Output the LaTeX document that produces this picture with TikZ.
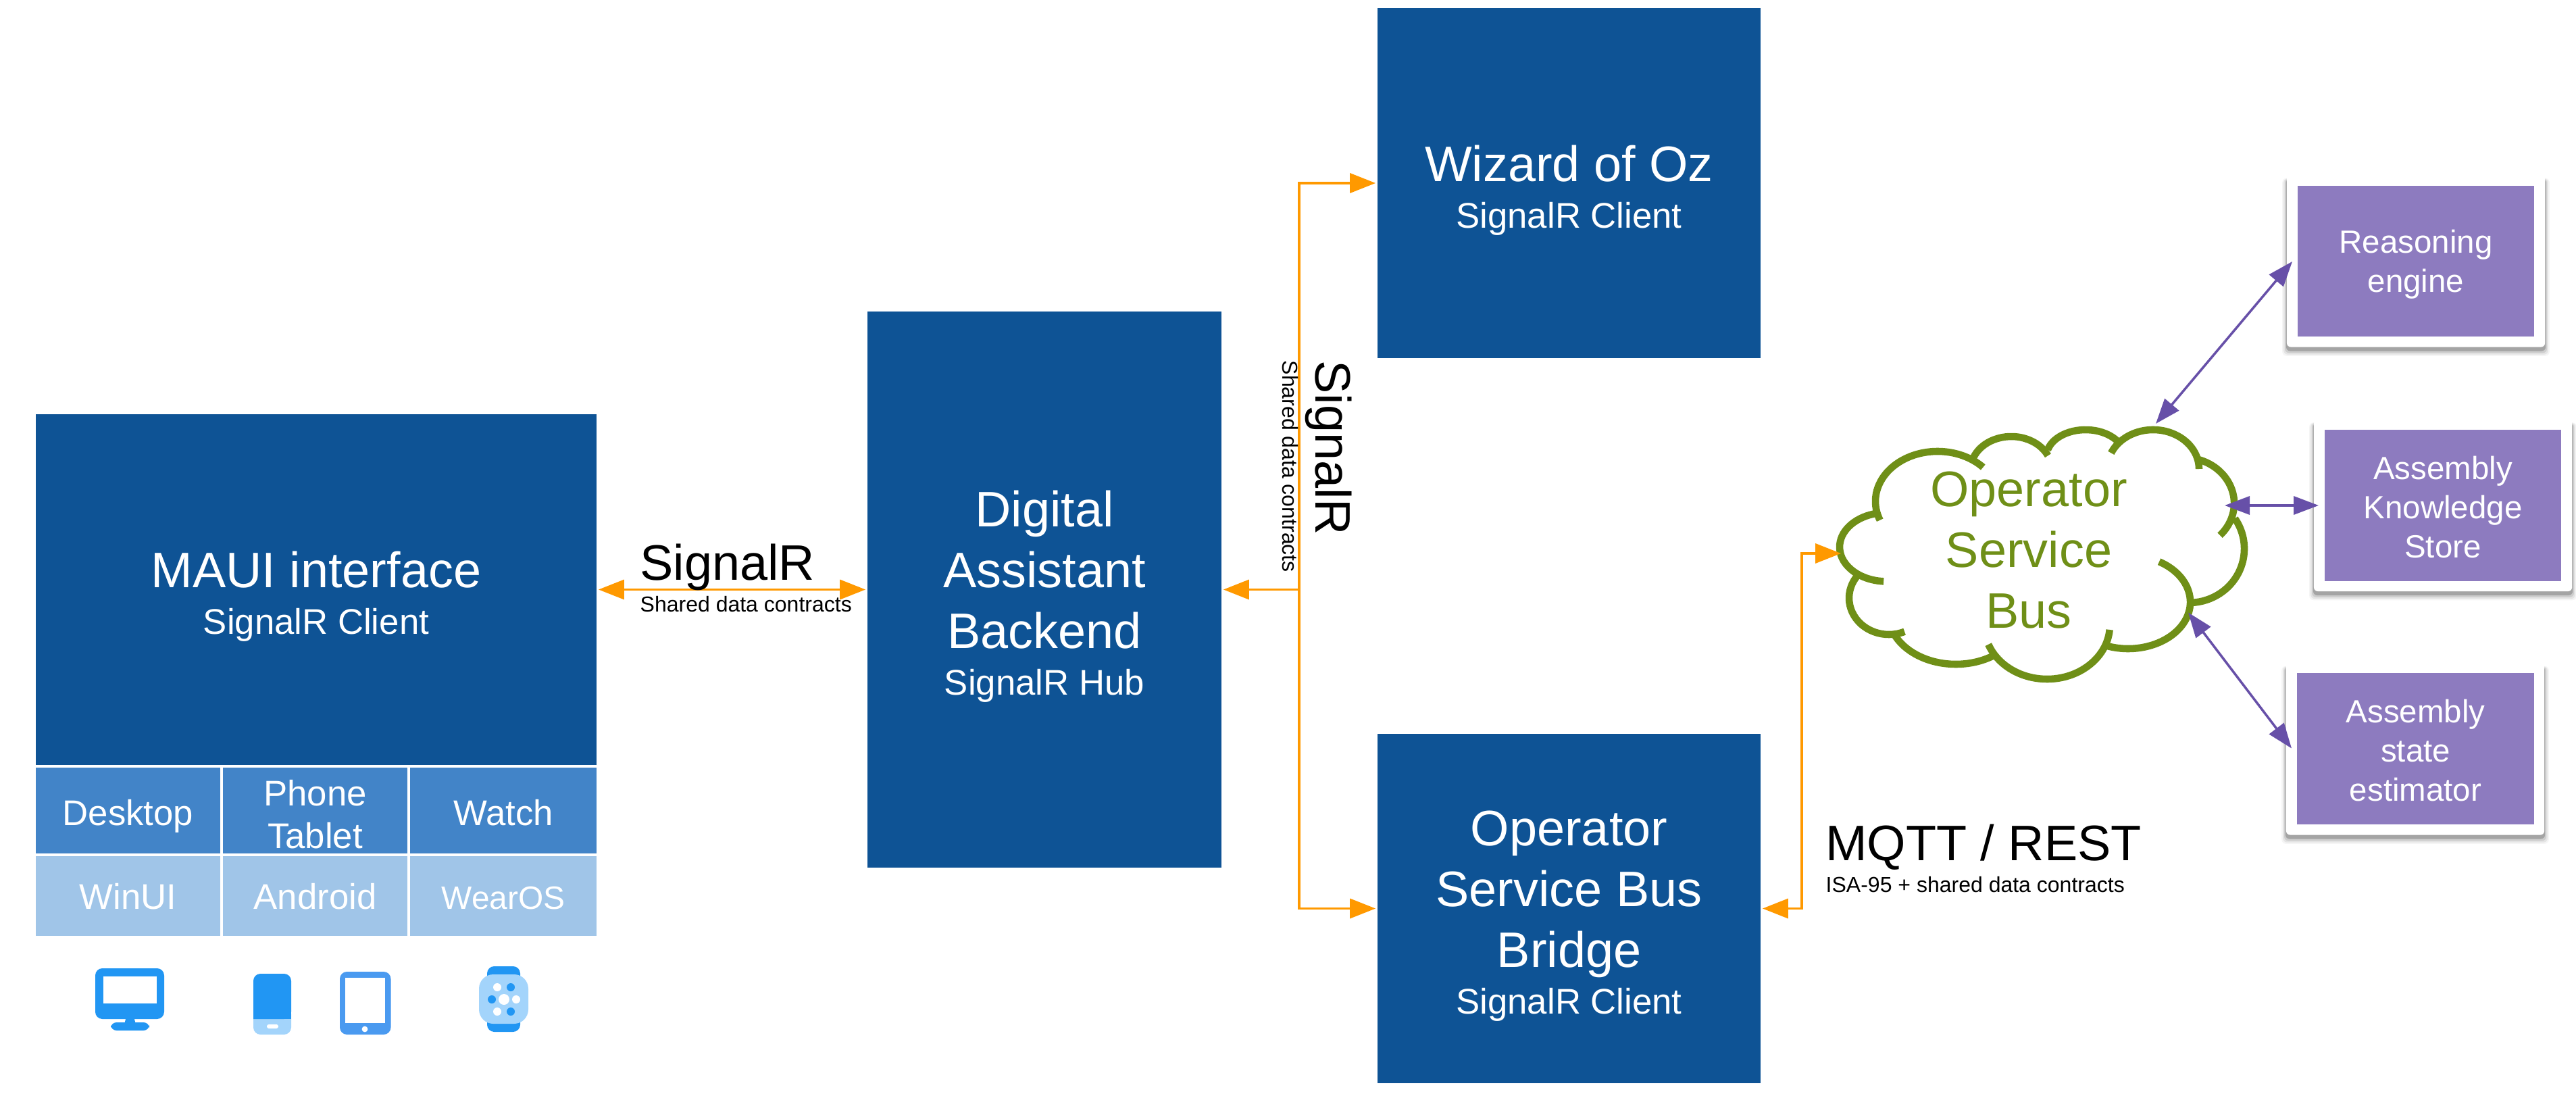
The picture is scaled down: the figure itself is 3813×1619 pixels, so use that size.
\documentclass[tikz,border=0pt]{standalone}
\usepackage{fontspec}
\setmainfont{Liberation Sans}
\usetikzlibrary{arrows.meta,shadows}
\definecolor{hubblue}{HTML}{0E5395}
\definecolor{rowblue}{HTML}{4284C8}
\definecolor{rowlight}{HTML}{A0C5E8}
\definecolor{iconblue}{HTML}{2196F3}
\definecolor{iconlight}{HTML}{A3D4FB}
\definecolor{icontab}{HTML}{4A9AF0}
\definecolor{linkorange}{HTML}{FF9900}
\definecolor{linkpurple}{HTML}{6750A8}
\definecolor{boxpurple}{HTML}{8D7BBF}
\definecolor{busgreen}{HTML}{6F8F17}
\newcommand{\subfont}{\fontsize{15}{18}\selectfont}
\newcommand{\titlelift}{\rule{0pt}{21.2pt}}
\tikzset{
  bluebox/.style={fill=hubblue,text=white,inner sep=0pt,align=center,font=\fontsize{21}{25.6}\selectfont},
  rowcell/.style={fill=rowblue,text=white,inner sep=0pt,align=center,font=\fontsize{15}{18}\selectfont},
  rowsingle/.style={rowcell,text height=12.6pt,text depth=0pt},
  lightcell/.style={rowcell,fill=rowlight,text height=11.2pt,text depth=0pt},
  cardbox/.style={fill=white,rounded corners=1.7pt,minimum width=3.82cm,minimum height=2.54cm,
    general shadow={fill=black,shadow scale=1.035,shadow yshift=-2.4pt,opacity=.04},
    general shadow={fill=black,shadow scale=1.025,shadow yshift=-2.2pt,opacity=.07},
    general shadow={fill=black,shadow scale=1.015,shadow yshift=-1.9pt,opacity=.1},
    general shadow={fill=black,shadow scale=1.005,shadow yshift=-1.5pt,opacity=.2}},
  purplebox/.style={fill=boxpurple,text=white,inner sep=0pt,align=center,minimum width=3.5cm,minimum height=2.23cm,
    font=\fontsize{13.5}{16.5}\selectfont},
  biglabel/.style={inner sep=0pt,anchor=base west,font=\fontsize{21}{25}\selectfont},
  smalllabel/.style={inner sep=0pt,anchor=base west,font=\fontsize{9.1}{11}\selectfont},
  orangelink/.style={draw=linkorange,line width=1pt,shorten >=.02cm},
  purplelink/.style={draw=linkpurple,line width=1pt,{Triangle[length=.37cm,width=.27cm]}-{Triangle[length=.37cm,width=.27cm]}},
  cloudline/.style={draw=busgreen,line width=3pt},
}
\begin{document}
\begin{tikzpicture}[x=0.01cm,y=-0.01cm]
  \useasboundingbox (0,0) rectangle (3813,1619);
  % blue boxes
  \node[bluebox,minimum width=8.3cm,minimum height=5.19cm] (maui) at (468,872.5) {\titlelift MAUI interface\\[-6pt]{\subfont SignalR Client}};
  \node[bluebox,minimum width=5.24cm,minimum height=8.23cm] (backend) at (1546,872.5) {\titlelift Digital\\Assistant\\Backend\\[-6pt]{\subfont SignalR Hub}};
  \node[bluebox,minimum width=5.67cm,minimum height=5.18cm] (wizard) at (2322.5,271) {\titlelift Wizard of Oz\\[-6pt]{\subfont SignalR Client}};
  \node[bluebox,minimum width=5.67cm,minimum height=5.17cm] (bridge) at (2322.5,1344.5) {\titlelift Operator\\Service Bus\\Bridge\\[-6pt]{\subfont SignalR Client}};
  % platform table
  \node[rowsingle,minimum width=2.73cm,minimum height=1.27cm] (desktop) at (189.5,1199.5) {Desktop};
  \node[rowcell,minimum width=2.73cm,minimum height=1.27cm] (phone) at (466.5,1199.5) {\rule{0pt}{14pt}Phone\\Tablet};
  \node[rowsingle,minimum width=2.76cm,minimum height=1.27cm] (watch) at (745,1199.5) {Watch};
  \node[lightcell,minimum width=2.73cm,minimum height=1.18cm] (winui) at (189.5,1326) {WinUI};
  \node[lightcell,minimum width=2.73cm,minimum height=1.18cm] (android) at (466.5,1326) {Android};
  \node[lightcell,minimum width=2.76cm,minimum height=1.18cm,font=\fontsize{13.6}{16}\selectfont] (wearos) at (745,1326) {WearOS};
  % icons
  \fill[iconblue,rounded corners=3pt] (141,1433) rectangle (243,1508);
  \fill[iconblue] (187,1504) -- (198,1504) -- (201,1516) -- (184,1516) -- cycle;
  \fill[iconblue,rounded corners=2.4pt] (164,1513) rectangle (221,1525);
  \fill[white] (153,1445) rectangle (232,1485);
  \fill[iconlight,rounded corners=3pt] (375,1490) rectangle (431,1531);
  \fill[iconblue,rounded corners=3pt] (375,1508) -- (375,1441) -- (431,1441) -- (431,1508) [sharp corners] -- cycle;
  \fill[iconblue] (375,1490) rectangle (431,1508);
  \fill[white,rounded corners=.8pt] (395,1516) rectangle (412,1522);
  \fill[icontab,rounded corners=3pt] (503,1438) rectangle (578.5,1531);
  \fill[white] (511,1447) rectangle (570,1514);
  \fill[white] (540,1523) circle (4.4);
  \fill[iconblue,rounded corners=3pt] (721,1430) rectangle (770,1455);
  \fill[iconblue,rounded corners=3pt] (721,1500) rectangle (770,1527);
  \fill[iconlight,rounded corners=6pt] (709,1442) rectangle (782,1515);
  \foreach \dotx/\doty in {756/1461,728/1479,756/1497}
    \fill[iconblue] (\dotx,\doty) circle (6);
  \foreach \dotx/\doty in {736/1461,764/1479,736/1497}
    \fill[white] (\dotx,\doty) circle (6);
  \fill[white] (746,1479) circle (8);
  % cloud
  \foreach \cx/\cy/\rx/\ry/\sa/\ea in {2793/809.5/70/51/94/258, 2868/742/92/74/158/317, 2977/695/60/49/200/335,
      3087/676/58/40/195/325, 3187/694/68/58/204/360, 3232/745/75/68/288/404, 3240/812/82/80/326/447,
      3150/891/92/69/300/470, 3030/925/93/80/5/159, 2895/908/100/75/57/155, 2796/885/59/54/67/217}
    \draw[cloudline] ({\cx+\rx*cos(\sa)},{\cy+\ry*sin(\sa)}) arc[start angle=\sa,end angle=\ea,x radius=\rx,y radius=\ry];
  \node[text=busgreen,inner sep=0pt,align=center,font=\fontsize{21}{25.6}\selectfont] (bus) at (3003,814) {Operator\\Service\\Bus};
  % purple cards
  \node[cardbox] (reasoncard) at (3576,386.5) {};
  \node[purplebox] (reason) at (3576,386.5) {\rule{0pt}{12.7pt}Reasoning\\engine};
  \node[cardbox] (storecard) at (3616,748) {};
  \node[purplebox] (store) at (3616,748) {\rule{0pt}{11.4pt}Assembly\\Knowledge\\Store};
  \node[cardbox] (statecard) at (3575,1108.5) {};
  \node[purplebox] (state) at (3575.5,1108) {\rule{0pt}{11.4pt}Assembly\\state\\estimator};
  % connector ends
  \coordinate (trunk) at (1923,872.5);
  \coordinate (busw) at (2727,819);
  \coordinate (busn) at (3191,627);
  \coordinate (buse) at (3293,748);
  \coordinate (buss) at (3239,906.5);
  \coordinate (reasontip) at (3393,387);
  \coordinate (storetip) at (3432,748);
  \coordinate (statetip) at (3392,1107.5);
  % orange links
  \tikzset{tip/.tip={Triangle[length=.38cm,width=.29cm]}}
  \draw[orangelink,shorten <=.02cm,{tip}-{tip}] (maui.east) -- (backend.west);
  \draw[orangelink,-{tip}] (trunk) -- (backend.east);
  \draw[orangelink,-{tip}] (trunk) |- (wizard.west);
  \draw[orangelink,-{tip}] (trunk) |- (bridge.west);
  \draw[orangelink,shorten <=.02cm,{tip}-{tip}] (bridge.east) -- ++(60,0) |- (busw);
  % purple links
  \draw[purplelink] (busn) -- (reasontip);
  \draw[purplelink] (buse) -- (storetip);
  \draw[purplelink] (buss) -- (statetip);
  % link labels
  \node[biglabel] (signalra) at (947,858) {SignalR};
  \node[smalllabel] (shareda) at (947,905) {Shared data contracts};
  \node[biglabel,rotate=-90] (signalrb) at (1947,533) {SignalR};
  \node[smalllabel,rotate=-90] (sharedb) at (1898,533) {Shared data contracts};
  \node[biglabel] (mqtt) at (2701.5,1273) {MQTT / REST};
  \node[smalllabel] (isa) at (2702,1320) {ISA-95 + shared data contracts};
\end{tikzpicture}
\end{document}
